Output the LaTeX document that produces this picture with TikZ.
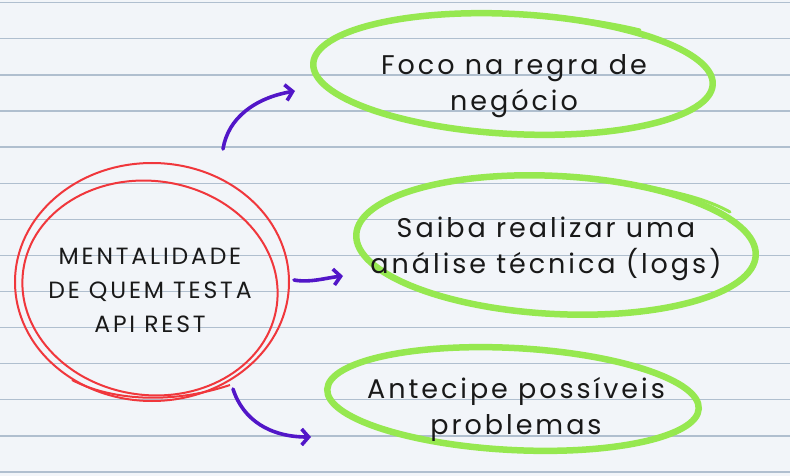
\documentclass[tikz,border=0pt]{standalone}
\usepackage{fontspec}
\setmainfont{Poppins}
\newfontfamily\widehand[LetterSpace=11]{Poppins}
\newfontfamily\widecaps[LetterSpace=12]{Poppins}
\usetikzlibrary{arrows.meta,shapes.geometric}
\definecolor{paper}{RGB}{242,245,249}
\definecolor{rule}{RGB}{176,191,207}
\definecolor{redink}{RGB}{240,55,60}
\definecolor{greenink}{RGB}{150,232,80}
\definecolor{purpleink}{RGB}{82,22,200}
\tikzset{
  ruleline/.style={rule,line width=1.3pt},
  redring/.style={redink,line width=2pt},
  greenring/.style={greenink,line width=6.5pt},
  greentail/.style={greenink,line width=3pt,line cap=round},
  inkarrow/.style={purpleink,line width=3.6pt,line cap=round,
    -{Straight Barb[length=7pt,width=16pt,line width=3.6pt]}},
  label/.style={align=center,font=\widehand\fontsize{27}{36}\selectfont,text=black!90},
  centrelabel/.style={align=center,font=\widecaps\fontsize{23.5}{34}\selectfont,text=black!90}
}
\begin{document}
\begin{tikzpicture}[x=1pt,y=-1pt]
\useasboundingbox (0,0) rectangle (790,476);
\fill[paper] (0,0) rectangle (790,476);
\foreach \k in {0,...,13}{
  \draw[ruleline] (0,{2.7+36.1*\k}) -- (790,{2.7+36.1*\k});
}
% red rings
\draw[redring] (152,282) ellipse [x radius=137,y radius=119];
\draw[redring,rotate around={-8:(150,288)}] (150,288) ellipse [x radius=128,y radius=107];
\draw[redring] (72,380) .. controls (110,400) and (170,405) .. (230,385);
% green rings
\draw[greenring,rotate around={-3:(513,74)}] (513,74) ellipse [x radius=200,y radius=60];
\draw[greentail] (492,12) .. controls (540,14) and (590,18) .. (640,30);
\draw[greenring,rotate around={-3:(556,245)}] (556,245) ellipse [x radius=200,y radius=69];
\draw[greentail] (655,188) .. controls (690,195) and (712,202) .. (730,212);
\draw[greenring,rotate around={-3:(513,399)}] (513,399) ellipse [x radius=186,y radius=51];
\draw[greentail] (495,348) .. controls (540,350) and (590,355) .. (630,365);
% texts
\node[centrelabel] (centre) at (150,290) {MENTALIDADE\\DE QUEM TESTA\\API REST};
\node[label] (foco) at (514,86) {Foco na regra de\\negócio};
\node[label] (saiba) at (546,249) {Saiba realizar uma\\análise técnica (logs)};
\node[label] (ante) at (516,409) {Antecipe possíveis\\problemas};
% arrows
\coordinate (a1s) at (223,149);
\coordinate (a1e) at (295,91);
\coordinate (a2s) at (294,280);
\coordinate (a2e) at (343,276);
\coordinate (a3s) at (233,389);
\coordinate (a3e) at (311,437);
\draw[inkarrow] (a1s) .. controls (228,118) and (255,98) .. (a1e);
\draw[inkarrow] (a2s) .. controls (310,283) and (325,278) .. (a2e);
\draw[inkarrow] (a3s) .. controls (243,420) and (270,437) .. (a3e);
\end{tikzpicture}
\end{document}
